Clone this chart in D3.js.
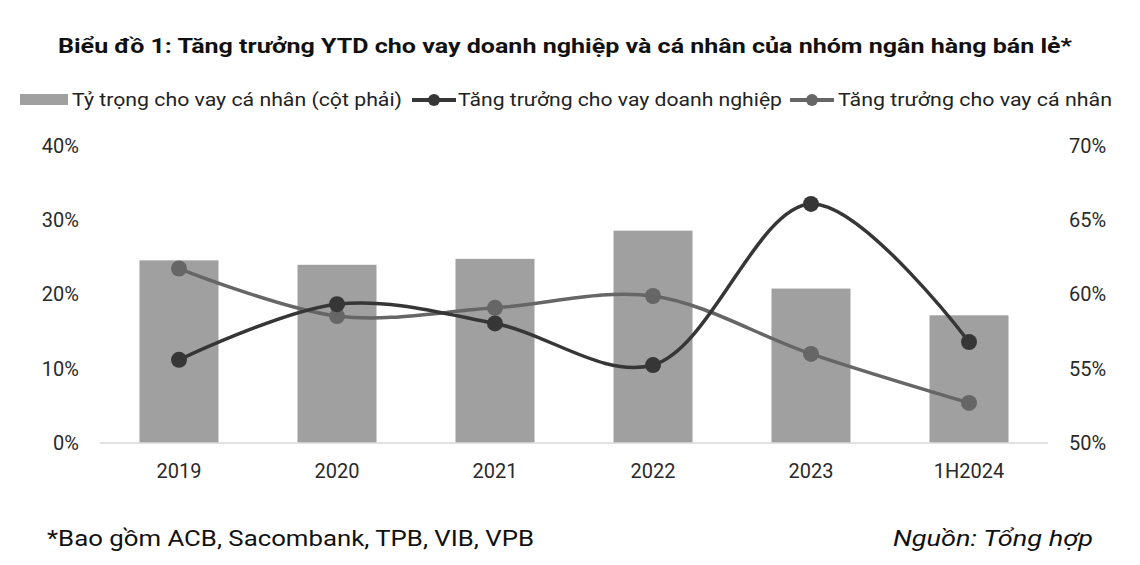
<!DOCTYPE html>
<html><head><meta charset="utf-8">
<script src="https://cdn.jsdelivr.net/npm/d3@7"></script>
<style>body{margin:0;background:#fff;} svg{display:block;font-family:Roboto, "Noto Sans", sans-serif;}</style>
</head><body>
<svg id="c" width="1140" height="565"></svg>
<script>
const categories = ["2019","2020","2021","2022","2023","1H2024"];
const shareIndividual = [0.623,0.620,0.624,0.643,0.604,0.586];
const growthCorporate = [0.112,0.187,0.161,0.105,0.322,0.136];
const growthIndividual = [0.235,0.171,0.182,0.198,0.120,0.054];
const leftTicks = [0,0.1,0.2,0.3,0.4];
const rightTicks = [0.5,0.55,0.6,0.65,0.7];
const seriesNames = ["Tỷ trọng cho vay cá nhân (cột phải)","Tăng trưởng cho vay doanh nghiệp","Tăng trưởng cho vay cá nhân"];
const title = "Biểu đồ 1: Tăng trưởng YTD cho vay doanh nghiệp và cá nhân của nhóm ngân hàng bán lẻ*";
const note = "*Bao gồm ACB, Sacombank, TPB, VIB, VPB";
const source = "Nguồn: Tổng hợp";

const svg = d3.select("#c");
const x = d3.scaleBand().domain(categories).range([100,1048]).paddingInner(0.5).paddingOuter(0.25);
const yL = d3.scaleLinear().domain([0,0.4]).range([443,146]);
const yR = d3.scaleLinear().domain([0.5,0.7]).range([443,146]);
const pct = d3.format(".0%");

// title
svg.append("text").attr("x",58).attr("y",53).attr("font-size",21).attr("font-weight",700)
  .attr("fill","#111").attr("textLength",1014).attr("lengthAdjust","spacingAndGlyphs").text(title);

// bars
svg.append("g").selectAll("rect").data(categories).join("rect")
  .attr("x",d=>x(d)).attr("width",x.bandwidth())
  .attr("y",(d,i)=>yR(shareIndividual[i])).attr("height",(d,i)=>yR(0.5)-yR(shareIndividual[i]))
  .attr("fill","#a0a0a0");

// baseline
svg.append("line").attr("x1",100).attr("x2",1048).attr("y1",yL(0)).attr("y2",yL(0))
  .attr("stroke","#d9d9d9").attr("stroke-width",1.5);

// axes
const axL = d3.axisLeft(yL).tickValues(leftTicks).tickFormat(pct).tickSize(0).tickPadding(0);
const gL = svg.append("g").attr("transform","translate(79,0)").call(axL);
const axR = d3.axisRight(yR).tickValues(rightTicks).tickFormat(pct).tickSize(0).tickPadding(0);
const gR = svg.append("g").attr("transform","translate(1069,0)").call(axR);
const axB = d3.axisBottom(x).tickSize(0).tickPadding(0);
const gB = svg.append("g").attr("transform","translate(0,471)").call(axB);
[gL,gR,gB].forEach(g=>{g.select(".domain").remove();
  g.selectAll("text").attr("font-family","Roboto").attr("font-size",20).attr("fill","#2a2a2a");});
gB.selectAll("text").attr("dy","0.35em").attr("y",0);

// lines
const cx = d=>x(d)+x.bandwidth()/2;
function drawLine(vals,color){
  const line = d3.line().x((d,i)=>cx(categories[i])).y(d=>yL(d)).curve(d3.curveCatmullRom.alpha(0.5));
  svg.append("path").datum(vals).attr("d",line).attr("fill","none").attr("stroke",color).attr("stroke-width",3.5);
  svg.append("g").selectAll("circle").data(vals).join("circle")
    .attr("cx",(d,i)=>cx(categories[i])).attr("cy",d=>yL(d)).attr("r",8).attr("fill",color);
}
drawLine(growthIndividual,"#666666");
drawLine(growthCorporate,"#363636");

// legend
const lg = svg.append("g").attr("font-size",18).attr("fill","#222");
lg.append("rect").attr("x",20).attr("y",94).attr("width",48).attr("height",11).attr("fill","#a0a0a0");
lg.append("text").attr("x",72).attr("y",100).attr("dy","0.35em").attr("textLength",330).attr("lengthAdjust","spacingAndGlyphs").text(seriesNames[0]);
[[412,"#363636",seriesNames[1],458,324],[790,"#666666",seriesNames[2],838,274]].forEach(([x0,c,t,tx,tl])=>{
  lg.append("line").attr("x1",x0).attr("x2",x0+44).attr("y1",100).attr("y2",100).attr("stroke",c).attr("stroke-width",4);
  lg.append("circle").attr("cx",x0+22).attr("cy",100).attr("r",6).attr("fill",c);
  lg.append("text").attr("x",tx).attr("y",100).attr("dy","0.35em").attr("textLength",tl).attr("lengthAdjust","spacingAndGlyphs").text(t);
});

// footer
svg.append("text").attr("x",47).attr("y",546).attr("font-size",22).attr("fill","#111")
  .attr("textLength",487).attr("lengthAdjust","spacingAndGlyphs").text(note);
svg.append("text").attr("x",1093).attr("y",546).attr("text-anchor","end").attr("font-size",22).attr("font-style","italic").attr("fill","#111")
  .attr("textLength",200).attr("lengthAdjust","spacingAndGlyphs").text(source);
</script>
</body></html>
